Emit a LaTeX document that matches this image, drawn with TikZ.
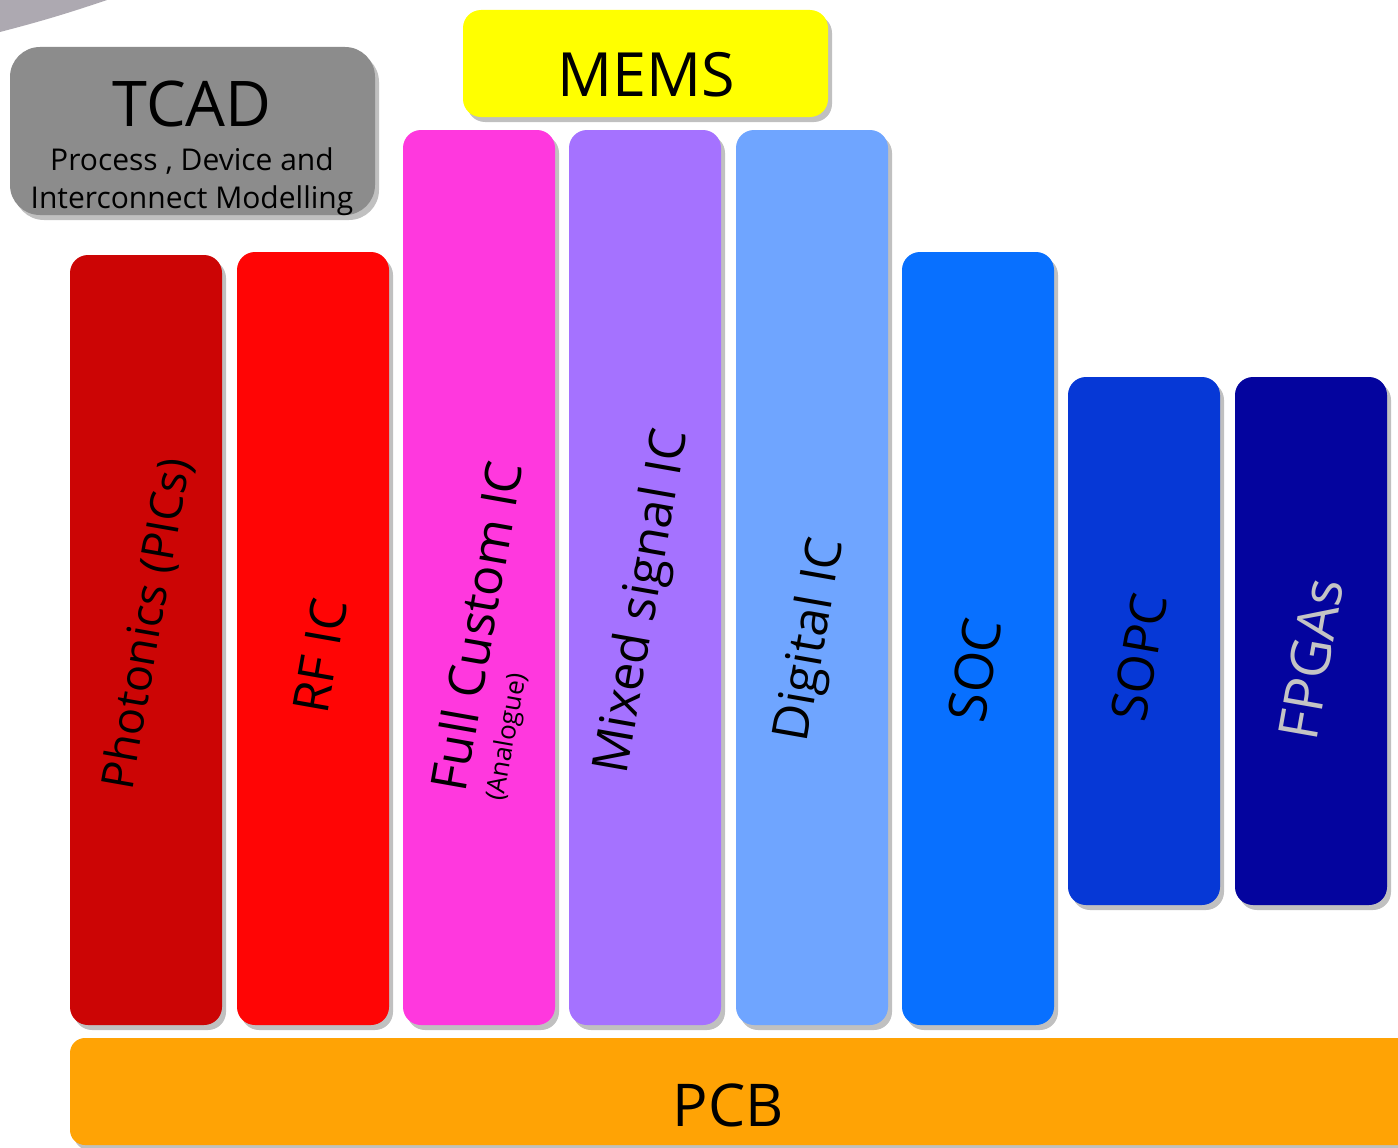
\documentclass[tikz,border=0pt]{standalone}
\usepackage{fontspec}
\setmainfont{Open Sans}
\usetikzlibrary{shadows}
\definecolor{cwedge}{HTML}{ADA9B1}
\definecolor{ctcad}{HTML}{8C8C8C}
\definecolor{cmems}{HTML}{FFFF00}
\definecolor{cphot}{HTML}{CC0505}
\definecolor{crf}{HTML}{FF0505}
\definecolor{cfull}{HTML}{FF38DE}
\definecolor{cmixed}{HTML}{A572FF}
\definecolor{cdig}{HTML}{6FA5FF}
\definecolor{csoc}{HTML}{0870FF}
\definecolor{csopc}{HTML}{0638D6}
\definecolor{cfpga}{HTML}{04049E}
\definecolor{cpcb}{HTML}{FFA305}
\definecolor{cfpgatext}{HTML}{C4C4C4}
\tikzset{
  x=1pt, y=-1pt,
  box/.style={anchor=north west, inner sep=0pt, outer sep=0pt, draw=none,
    rounded corners=18pt,
    drop shadow={shadow xshift=4pt, shadow yshift=-5pt, opacity=0.35, fill=black!70}},
  bartext/.style={rotate=80, inner sep=0pt, font=\fontsize{50}{56}\selectfont, text=black},
}
\begin{document}
\begin{tikzpicture}
\clip (0,0) rectangle (1398,1148);
\fill[white] (0,0) rectangle (1398,1148);
% wedge in the top-left corner
\fill[cwedge] (0,0) -- (107,0) to[bend left=2] (0,32) -- cycle;

% TCAD
\node[box, fill=ctcad, rounded corners=30pt, minimum width=365pt, minimum height=168pt] (tcad) at (10,47) {};
\node[font=\fontsize{63}{68}\selectfont, inner sep=0pt] (tcadt) at (192,104) {TCAD};
\node[font=\fontsize{30}{38}\selectfont, inner sep=0pt, align=center] (tcads) at (192,182) {Process , Device and\\Interconnect Modelling};

% MEMS
\node[box, fill=cmems, minimum width=365pt, minimum height=107pt] (mems) at (463,10) {};
\node[font=\fontsize{61}{68}\selectfont, inner sep=0pt] (memst) at (646,75) {MEMS};

% bars
\node[box, fill=cphot, minimum width=152pt, minimum height=770pt] (phot) at (70,255) {};
\node[box, fill=crf, minimum width=152pt, minimum height=773pt] (rf) at (237,252) {};
\node[box, fill=cfull, minimum width=152pt, minimum height=895pt] (full) at (403,130) {};
\node[box, fill=cmixed, minimum width=152pt, minimum height=895pt] (mixed) at (569,130) {};
\node[box, fill=cdig, minimum width=152pt, minimum height=895pt] (dig) at (736,130) {};
\node[box, fill=csoc, minimum width=152pt, minimum height=773pt] (soc) at (902,252) {};
\node[box, fill=csopc, minimum width=152pt, minimum height=528pt] (sopc) at (1068,377) {};
\node[box, fill=cfpga, minimum width=152pt, minimum height=528pt] (fpga) at (1235,377) {};

% PCB
\node[box, fill=cpcb, rounded corners=15pt, minimum width=1360pt, minimum height=107pt] (pcb) at (70,1038) {};
\node[font=\fontsize{59}{66}\selectfont, inner sep=0pt] (pcbt) at (728,1105) {PCB};

% bar labels
\node[bartext, font=\fontsize{45}{50}\selectfont] (phott) at (148,624) {Photonics (PICs)};
\node[bartext] (rft) at (320,656) {RF IC};
\node[bartext] (fullt) at (476,626) {Full Custom IC};
\node[bartext, font=\fontsize{26}{30}\selectfont] (fulls) at (508,737) {(Analogue)};
\node[bartext] (mixedt) at (644,602) {Mixed signal IC};
\node[bartext] (digt) at (812,640) {Digital IC};
\node[bartext, font=\fontsize{53}{58}\selectfont] (soct) at (975,670) {SOC};
\node[bartext] (sopct) at (1139,657) {SOPC};
\node[bartext, text=cfpgatext, font=\fontsize{55}{60}\selectfont] (fpgat) at (1311,659) {FPGAs};
\end{tikzpicture}
\end{document}
